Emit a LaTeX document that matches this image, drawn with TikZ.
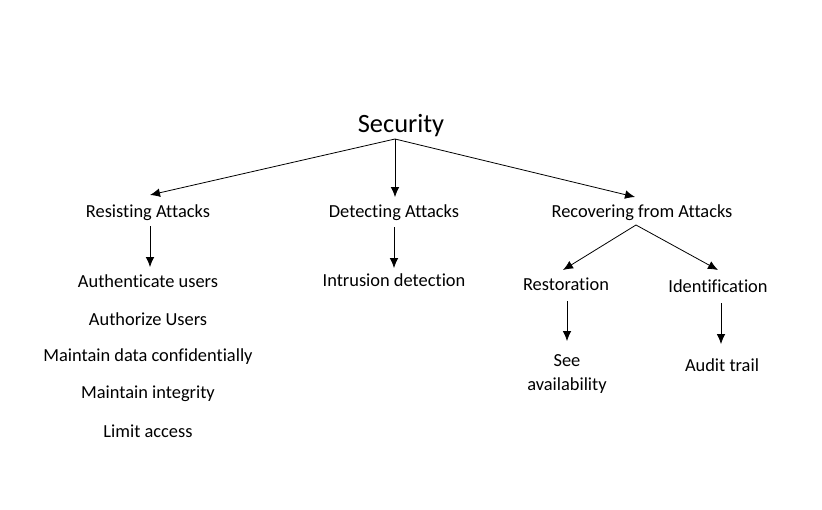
\documentclass[tikz,border=0pt]{standalone}
\usepackage{fontspec}
\setmainfont{Carlito}[Ligatures=NoCommon]
\usepackage{tikz}
\usetikzlibrary{arrows.meta}

\tikzset{
    lbl/.style={font=\fontsize{13.8}{18}\selectfont, inner sep=5pt, align=center},
    arr/.style={-{Latex[length=7.5pt,width=6.5pt]}, semithick},
}

\begin{document}
\begin{tikzpicture}[x=0.75pt,y=-0.75pt]
    \useasboundingbox (0,0) rectangle (822,510);

    \node[font=\fontsize{19.8}{24}\selectfont, inner sep=2pt] (sec) at (401,126) {Security};
    \coordinate (hub) at (395,139);

    \node[lbl] (resist) at (148,213) {Resisting Attacks};
    \node[lbl] (detect) at (394,213) {Detecting Attacks};
    \node[lbl] (recover) at (642,213) {Recovering from Attacks};

    \node[lbl] (auth) at (148,281) {Authenticate users};
    \node[lbl] (authz) at (148,319) {Authorize Users};
    \node[lbl] (conf) at (148,357) {Maintain data confidentially};
    \node[lbl] (integ) at (148,394) {Maintain integrity};
    \node[lbl] (limit) at (148,431) {Limit access};

    \node[lbl] (intr) at (394,280) {Intrusion detection};

    \node[lbl] (restore) at (566,284) {Restoration};
    \node[lbl] (ident) at (718,286) {Identification};
    \node[lbl] (avail) at (567,374) {See\\availability};
    \node[lbl] (audit) at (722,365) {Audit trail};

    \coordinate (rhub) at (636,225);

    \draw[arr] (hub) -- (150,195);
    \draw[arr] (hub) -- (395,197);
    \draw[arr] (hub) -- (635,197);

    \draw[arr] (150,226) -- (150,267);
    \draw[arr] (394,227) -- (394,268);

    \draw[arr] (rhub) -- (563,270);
    \draw[arr] (rhub) -- (718,270);

    \draw[arr] (567,301) -- (567,341);
    \draw[arr] (721,303) -- (721,344);
\end{tikzpicture}
\end{document}
